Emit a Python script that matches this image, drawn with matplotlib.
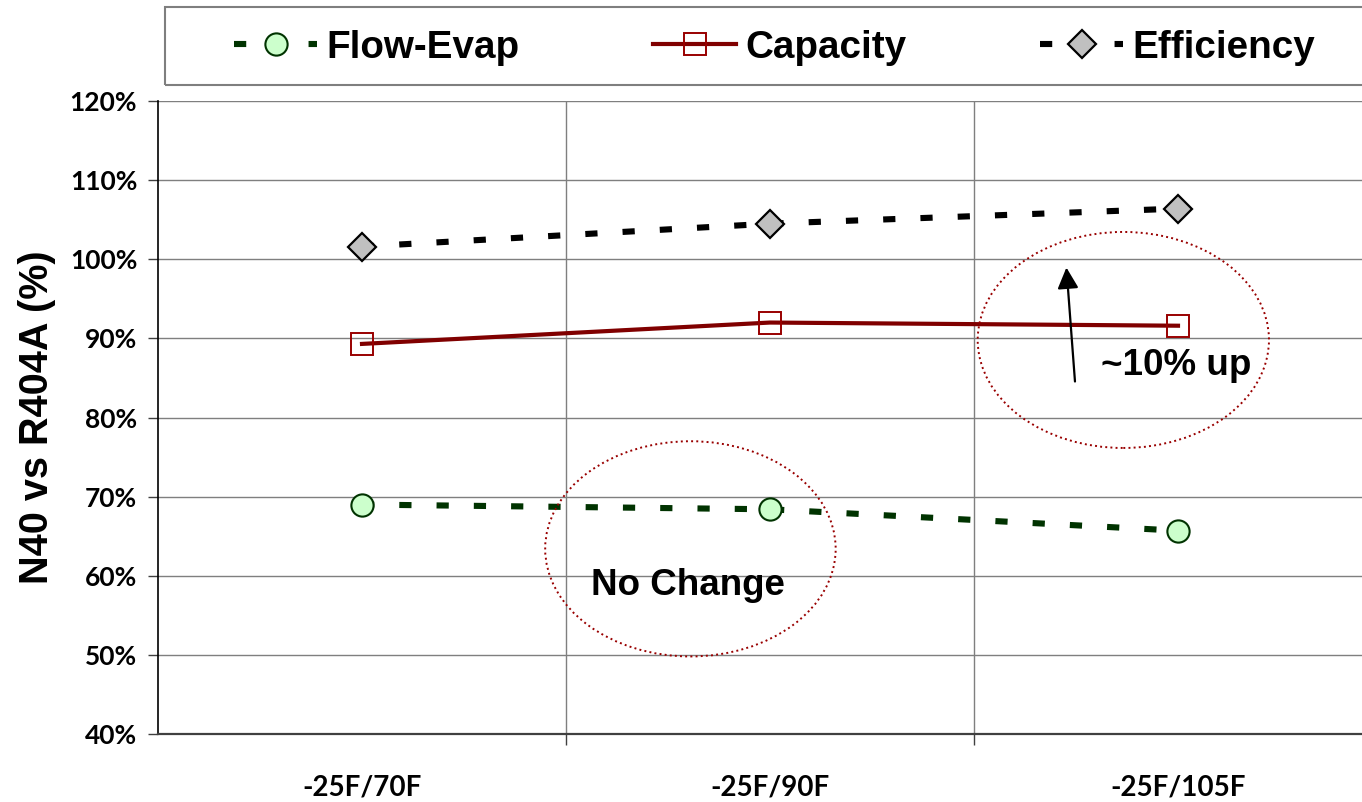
import matplotlib
matplotlib.use("Agg")
import matplotlib.pyplot as plt
from matplotlib.patches import Ellipse, Rectangle
from matplotlib.ticker import FuncFormatter

conditions = ["-25F/70F", "-25F/90F", "-25F/105F"]
flow_evap = [69.0, 68.4, 65.7]
capacity = [89.3, 92.0, 91.6]
efficiency = [101.6, 104.5, 106.4]

W, H = 1362, 802
fig = plt.figure(figsize=(W / 100, H / 100), dpi=100)
ax = fig.add_axes([158 / W, 68 / H, 1224 / W, 633 / H])

x = range(len(conditions))

ax.plot(x, flow_evap, color="#003300", lw=4.4, dashes=(2.0, 4.1),
        marker="o", ms=16, mfc="#CCFFCC", mec="#003300", mew=1.5,
        label="Flow-Evap", zorder=4)
ax.plot(x, capacity, color="#800000", lw=3.0,
        marker="s", ms=15.5, mfc="none", mec="#990000", mew=1.4,
        label="Capacity", zorder=4)
ax.plot(x, efficiency, color="black", lw=4.4, dashes=(2.0, 4.1),
        marker="D", ms=13.8, mfc="#C0C0C0", mec="black", mew=1.6,
        label="Efficiency", zorder=4)

ax.set_xlim(-0.5, 2.5)
ax.set_ylim(40, 120)
ax.set_yticks(range(40, 121, 10))
ax.yaxis.set_major_formatter(FuncFormatter(lambda v, p: f"{v:.0f}%"))

# category boundaries carry the vertical grid; labels sit on minor ticks
ax.set_xticks([0.5, 1.5, 2.5])
ax.set_xticklabels([])
ax.set_xticks(list(x), minor=True)
ax.set_xticklabels(conditions, minor=True)
ax.tick_params(axis="x", which="major", length=8, width=1, color="#404040")
ax.tick_params(axis="x", which="minor", length=0, pad=29)
ax.tick_params(axis="y", length=7, width=1, color="#404040", pad=8)
for lab in ax.get_xticklabels(minor=True) + ax.get_yticklabels():
    lab.set_fontfamily("Lato")
    lab.set_fontweight("bold")
    lab.set_fontsize(19)
for lab in ax.get_xticklabels(minor=True):
    lab.set_fontsize(20)

ax.grid(True, which="major", color="#7f7f7f", lw=1.0, zorder=0)
ax.set_axisbelow(True)
for side in ["top", "right"]:
    ax.spines[side].set_visible(False)
ax.spines["left"].set_color("black")
ax.spines["left"].set_linewidth(1.2)
ax.spines["bottom"].set_color("#404040")
ax.spines["bottom"].set_linewidth(1.6)

ax.set_ylabel("N40 vs R404A (%)", fontsize=28.5, fontweight="bold",
              fontfamily="Liberation Sans", labelpad=10)

# callouts
ax.add_patch(Ellipse((0.805, 63.4), 0.712, 27.2, fill=False,
                     ec="#990000", lw=1.4, ls=":", zorder=5))
ax.add_patch(Ellipse((1.866, 89.8), 0.714, 27.3, fill=False,
                     ec="#990000", lw=1.4, ls=":", zorder=5))
ax.text(0.80, 58.8, "No Change", ha="center", va="center", fontsize=26.5,
        fontweight="bold", fontfamily="Liberation Sans", zorder=6)
ax.text(1.996, 86.6, "~10% up", ha="center", va="center", fontsize=26.5,
        fontweight="bold", fontfamily="Liberation Sans", zorder=6)
ax.annotate("", xy=(1.726, 99.3), xytext=(1.748, 84.2),
            arrowprops=dict(arrowstyle="-|>", color="black", lw=1.6,
                            mutation_scale=32), zorder=6)

# legend frame spans past the right edge
fig.patches.append(Rectangle((165 / W, 1 - 85 / H), 1300 / W, 78 / H,
                             transform=fig.transFigure, fill=False,
                             ec="#7f7f7f", lw=1.5))
fig.legend(loc="center left", bbox_to_anchor=(234 / W, 1 - 48 / H),
           ncol=3, frameon=False, handlelength=2.15,
           handletextpad=0.25, columnspacing=3.45, borderaxespad=0,
           borderpad=0,
           prop={"family": "Liberation Sans", "weight": "bold", "size": 27.8})

fig.savefig("out.png", dpi=100)
